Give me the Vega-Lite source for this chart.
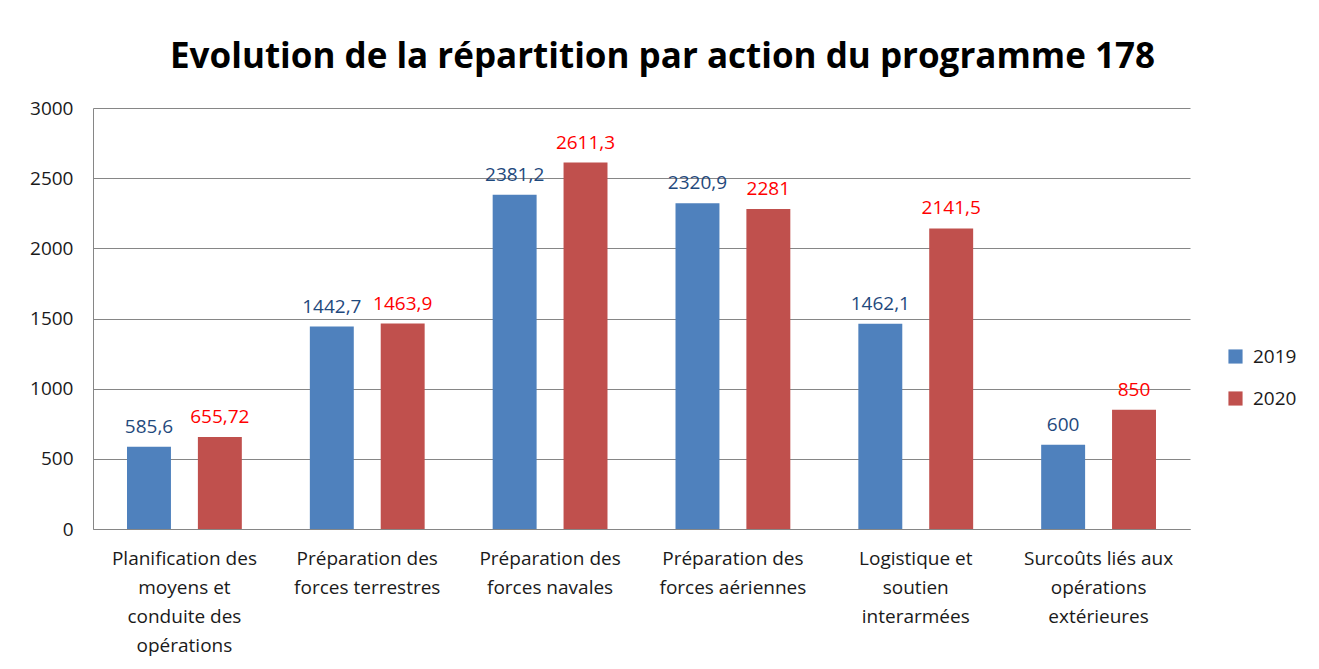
{
  "$schema": "https://vega.github.io/schema/vega-lite/v6.json",
  "width": 1097,
  "height": 421,
  "autosize": {"type": "none"},
  "padding": {"left": 93, "top": 108, "right": 129, "bottom": 140},
  "background": "white",
  "title": {
    "text": "Evolution de la répartition par action du programme 178",
    "font": "Open Sans",
    "fontSize": 35,
    "fontWeight": "bold",
    "color": "#000000",
    "anchor": "middle",
    "dx": 21,
    "offset": 24
  },
  "data": {
    "values": [
      {"action": "Planification des|moyens et|conduite des|opérations", "year": "2019", "value": 585.6, "label": "585,6"},
      {"action": "Planification des|moyens et|conduite des|opérations", "year": "2020", "value": 655.72, "label": "655,72"},
      {"action": "Préparation des|forces terrestres", "year": "2019", "value": 1442.7, "label": "1442,7"},
      {"action": "Préparation des|forces terrestres", "year": "2020", "value": 1463.9, "label": "1463,9"},
      {"action": "Préparation des|forces navales", "year": "2019", "value": 2381.2, "label": "2381,2"},
      {"action": "Préparation des|forces navales", "year": "2020", "value": 2611.3, "label": "2611,3"},
      {"action": "Préparation des|forces aériennes", "year": "2019", "value": 2320.9, "label": "2320,9"},
      {"action": "Préparation des|forces aériennes", "year": "2020", "value": 2281, "label": "2281"},
      {"action": "Logistique et|soutien|interarmées", "year": "2019", "value": 1462.1, "label": "1462,1"},
      {"action": "Logistique et|soutien|interarmées", "year": "2020", "value": 2141.5, "label": "2141,5"},
      {"action": "Surcoûts liés aux|opérations|extérieures", "year": "2019", "value": 600, "label": "600"},
      {"action": "Surcoûts liés aux|opérations|extérieures", "year": "2020", "value": 850, "label": "850"}
    ]
  },
  "encoding": {
    "x": {
      "field": "action",
      "type": "nominal",
      "sort": null,
      "scale": {"paddingInner": 0.372, "paddingOuter": 0.186},
      "axis": {
        "title": null,
        "labelAngle": 0,
        "labelExpr": "split(datum.label, '|')",
        "labelFont": "Open Sans",
        "labelFontSize": 19,
        "labelColor": "#1a1a1a",
        "labelLineHeight": 29,
        "labelPadding": 20,
        "labelLimit": 300,
        "ticks": false,
        "domainColor": "#868686",
        "grid": false
      }
    },
    "xOffset": {"field": "year", "type": "nominal", "scale": {"paddingInner": 0.38, "paddingOuter": 0}},
    "y": {
      "field": "value",
      "type": "quantitative",
      "scale": {"domain": [0, 3000]},
      "axis": {
        "title": null,
        "values": [0, 500, 1000, 1500, 2000, 2500, 3000],
        "format": "d",
        "labelFont": "Open Sans",
        "labelFontSize": 19,
        "labelColor": "#1a1a1a",
        "labelPadding": 20,
        "ticks": false,
        "domainColor": "#868686",
        "gridColor": "#868686",
        "gridWidth": 1
      }
    }
  },
  "layer": [
    {
      "mark": {"type": "bar"},
      "encoding": {
        "color": {
          "field": "year",
          "type": "nominal",
          "scale": {"domain": ["2019", "2020"], "range": ["#4F81BD", "#C0504D"]},
          "legend": {
            "title": null,
            "orient": "none",
            "legendX": 1133,
            "legendY": 239,
            "symbolType": "square",
            "symbolSize": 200,
            "symbolStrokeWidth": 0,
            "labelFont": "Open Sans",
            "labelFontSize": 19,
            "labelColor": "#1a1a1a",
            "labelOffset": 8,
            "rowPadding": 22,
            "padding": 0
          }
        }
      }
    },
    {
      "mark": {"type": "text", "baseline": "bottom", "dy": -10, "font": "Open Sans", "fontSize": 19},
      "encoding": {
        "text": {"field": "label", "type": "nominal"},
        "color": {"condition": {"test": "datum.year === '2019'", "value": "#1F497D"}, "value": "#FF0000"}
      }
    }
  ],
  "config": {
    "view": {"stroke": null}
  }
}
